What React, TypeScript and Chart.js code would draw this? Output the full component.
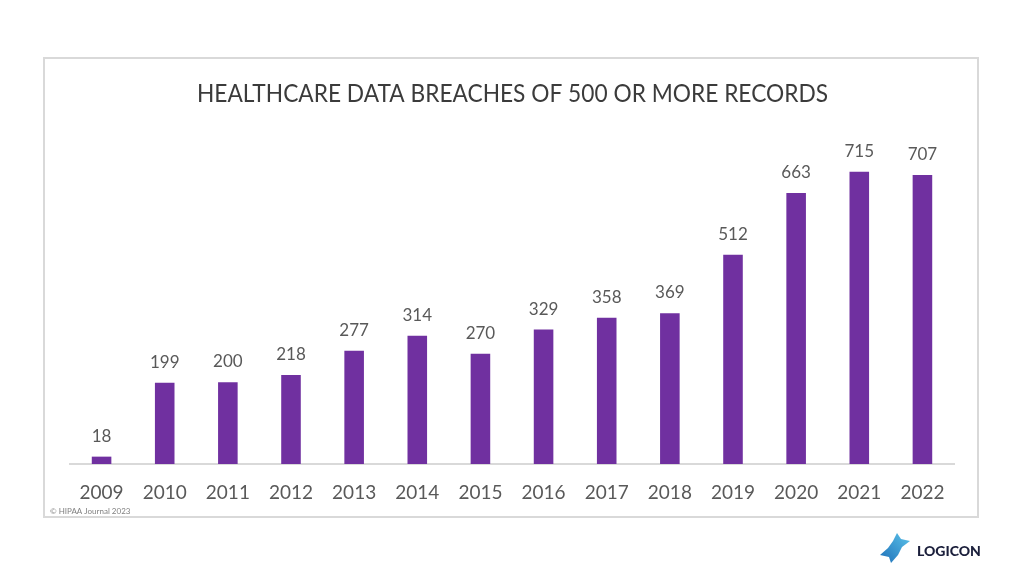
import React, { useEffect, useRef } from "react";
import { Chart, registerables } from "chart.js";

Chart.register(...registerables);

const categories = ["2009", "2010", "2011", "2012", "2013", "2014", "2015", "2016", "2017", "2018", "2019", "2020", "2021", "2022"];
const breaches = [18, 199, 200, 218, 277, 314, 270, 329, 358, 369, 512, 663, 715, 707];
const titleText = "HEALTHCARE DATA BREACHES OF 500 OR MORE RECORDS";
const sourceText = "© HIPAA Journal 2023";
const brandText = "LOGICON";

const FONT = "Lato, 'Open Sans', sans-serif";

const decorPlugin = {
  id: "decor",
  beforeDraw(chart: any) {
    const ctx = chart.ctx as CanvasRenderingContext2D;
    ctx.save();
    ctx.fillStyle = "#ffffff";
    ctx.fillRect(0, 0, chart.width, chart.height);
    // frame
    ctx.strokeStyle = "#d9d9d9";
    ctx.lineWidth = 2;
    ctx.strokeRect(44, 58, 934, 459);
    // title
    ctx.fillStyle = "#3b3b3b";
    ctx.font = `25px ${FONT}`;
    ctx.textAlign = "center";
    ctx.textBaseline = "alphabetic";
    const w = ctx.measureText(titleText).width;
    const target = 631;
    ctx.translate(512.5, 102);
    ctx.scale(target / w, 1);
    ctx.fillText(titleText, 0, 0);
    ctx.restore();

    ctx.save();
    // source
    ctx.fillStyle = "#808080";
    ctx.font = `8px ${FONT}`;
    ctx.textAlign = "left";
    ctx.textBaseline = "alphabetic";
    ctx.fillText(sourceText, 50, 514);
    // logo icon
    ctx.translate(880, 533);
    const g = ctx.createLinearGradient(0, 30, 30, 0);
    g.addColorStop(0, "#1d6fb8");
    g.addColorStop(1, "#5cc3ea");
    ctx.fillStyle = g;
    ctx.beginPath();
    ctx.moveTo(17, 0);
    ctx.lineTo(21, 6);
    ctx.lineTo(30, 8);
    ctx.lineTo(22, 14);
    ctx.lineTo(18, 22);
    ctx.lineTo(11, 30);
    ctx.lineTo(9, 24);
    ctx.lineTo(0, 22);
    ctx.lineTo(8, 15);
    ctx.lineTo(13, 8);
    ctx.closePath();
    ctx.fill();
    ctx.restore();

    ctx.save();
    ctx.fillStyle = "#1b1f3b";
    ctx.font = `900 14px ${FONT}`;
    ctx.textAlign = "left";
    ctx.textBaseline = "alphabetic";
    ctx.fillText(brandText, 917, 556);
    ctx.restore();
  },
  afterDatasetsDraw(chart: any) {
    const ctx = chart.ctx as CanvasRenderingContext2D;
    const meta = chart.getDatasetMeta(0);
    const data = chart.data.datasets[0].data;
    ctx.save();
    ctx.fillStyle = "#595959";
    ctx.font = `17px ${FONT}`;
    ctx.textAlign = "center";
    ctx.textBaseline = "alphabetic";
    meta.data.forEach((bar: any, i: number) => {
      ctx.fillText(String(data[i]), bar.x, bar.y - 15);
    });
    ctx.restore();
  },
};

export default function App() {
  const ref = useRef<HTMLCanvasElement>(null);
  useEffect(() => {
    if (!ref.current) return;
    const chart = new Chart(ref.current, {
      type: "bar",
      data: {
        labels: categories,
        datasets: [
          {
            data: breaches,
            backgroundColor: "#7030a0",
            borderWidth: 0,
            barPercentage: 0.31,
            categoryPercentage: 1,
          },
        ],
      },
      options: {
        responsive: false,
        animation: false,
        devicePixelRatio: 1,
        layout: { padding: { left: 70, right: 70, top: 137, bottom: 0 } },
        plugins: {
          legend: { display: false },
          title: { display: false },
          tooltip: { enabled: false },
        },
        scales: {
          x: {
            grid: { display: false, drawTicks: false },
            border: { display: true, color: "#d9d9d9", width: 2 },
            ticks: {
              color: "#595959",
              font: { family: FONT, size: 19 },
              padding: 17,
              maxRotation: 0,
              autoSkip: false,
            },
            afterFit: (scale: any) => {
              scale.height = 576 - 464;
            },
          },
          y: {
            display: false,
            min: 0,
            max: 800,
          },
        },
      },
      plugins: [decorPlugin],
    });
    return () => chart.destroy();
  }, []);
  return (
    <div style={{ position: "fixed", left: 0, top: 0, width: 1024, height: 576, background: "#fff" }}>
      <canvas ref={ref} width={1024} height={576} style={{ width: 1024, height: 576, display: "block" }} />
    </div>
  );
}
